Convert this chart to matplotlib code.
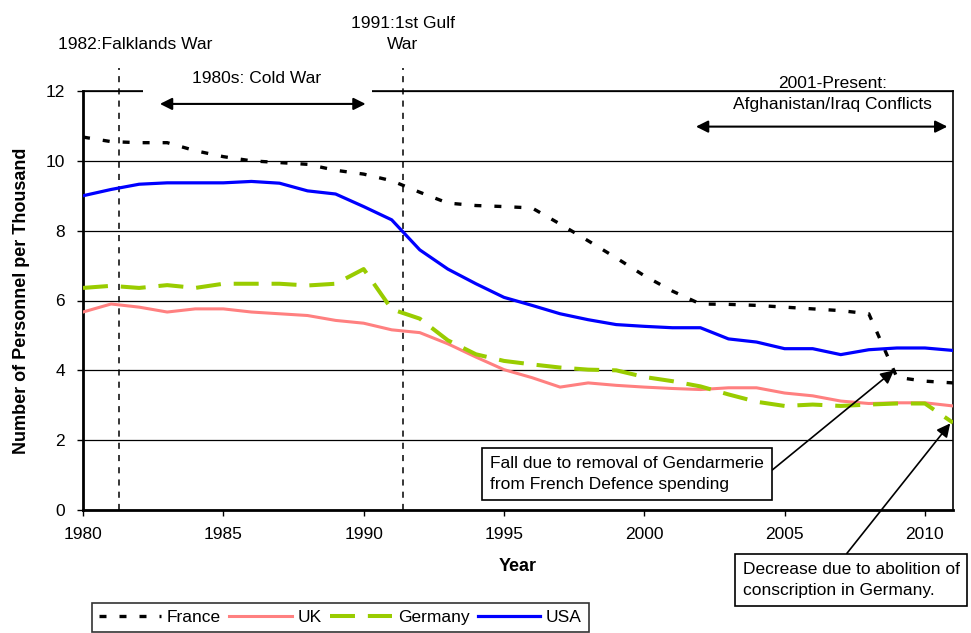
import numpy as np
import matplotlib.pyplot as plt
from matplotlib.patches import Rectangle

plt.rcParams['font.family'] = ['Liberation Sans', 'DejaVu Sans']

# Data (personnel per thousand population)
years = list(range(1980, 2012))
france = [10.68, 10.55, 10.52, 10.52, 10.29, 10.12, 10.0, 9.95, 9.9, 9.73, 9.62, 9.43,
          9.1, 8.79, 8.72, 8.69, 8.65, 8.19, 7.71, 7.22, 6.71, 6.27, 5.9, 5.89,
          5.86, 5.81, 5.76, 5.71, 5.62, 3.8, 3.69, 3.64]
uk = [5.67, 5.9, 5.81, 5.67, 5.76, 5.76, 5.67, 5.62, 5.57, 5.43, 5.35, 5.16,
      5.08, 4.76, 4.38, 4.02, 3.79, 3.52, 3.64, 3.57, 3.52, 3.48, 3.45, 3.5,
      3.5, 3.35, 3.27, 3.12, 3.05, 3.07, 3.07, 2.98]
germany = [6.36, 6.42, 6.36, 6.44, 6.36, 6.48, 6.48, 6.48, 6.43, 6.48, 6.9, 5.75,
           5.48, 4.86, 4.46, 4.27, 4.17, 4.08, 4.02, 4.0, 3.81, 3.69, 3.54, 3.31,
           3.1, 2.98, 3.02, 2.98, 3.02, 3.05, 3.05, 2.5]
usa = [9.0, 9.18, 9.33, 9.37, 9.37, 9.37, 9.41, 9.36, 9.14, 9.05, 8.69, 8.31,
       7.45, 6.9, 6.48, 6.09, 5.86, 5.62, 5.45, 5.31, 5.26, 5.22, 5.22, 4.9,
       4.81, 4.62, 4.62, 4.45, 4.59, 4.64, 4.64, 4.57]

event_years = [1981.3, 1991.4]
fs = 12.5
ls = 1.5

fig = plt.figure(figsize=(9.71, 6.33), dpi=100)
ax = fig.add_axes([83 / 971, 1 - 510 / 633, 870 / 971, 419 / 633])

l1, = ax.plot(years, france, color='black', lw=2.4, dashes=(2.1, 3.9), label='France', zorder=3)
l2, = ax.plot(years, uk, color='#FF8080', lw=2.2, label='UK', zorder=3)
l3, = ax.plot(years, germany, color='#99CC00', lw=2.9, dashes=(6.2, 3.2), label='Germany', zorder=3)
l4, = ax.plot(years, usa, color='#0000FF', lw=2.3, label='USA', zorder=3)

ax.set_xlim(1980, 2011)
ax.set_ylim(0, 12)
ax.set_yticks(np.arange(0, 13, 2))
ax.set_xticks(np.arange(1980, 2011, 5))
ax.yaxis.grid(True, color='black', lw=0.9)
ax.set_axisbelow(True)
ax.tick_params(labelsize=fs, length=4, width=1, direction='out')
ax.tick_params(axis='x', pad=8)
ax.tick_params(axis='y', pad=9)
for s in ['left', 'bottom']:
    ax.spines[s].set_linewidth(2)
for s in ['right', 'top']:
    ax.spines[s].set_linewidth(1.2)

ax.set_xlabel('Year', fontsize=fs + 0.5, fontweight='bold', labelpad=12)
ax.set_ylabel('Number of Personnel per Thousand', fontsize=fs + 0.5, fontweight='bold', labelpad=11)

# event lines
ax.vlines(event_years, 0, 12.67, colors='black', linestyles=(0, (4, 4)), lw=1.1, clip_on=False, zorder=2)
ax.text(1980.0 - 0.9, 13.33, '1982:Falklands War', fontsize=fs, ha='left', va='center')
ax.text(event_years[1], 13.64, '1991:1st Gulf\nWar', fontsize=fs, ha='center', va='center',
        linespacing=ls)

# cold war box covering the top line
ax.add_patch(Rectangle((1982.14, 11.93), 8.14, 0.8, facecolor='white', edgecolor='none',
                       clip_on=False, zorder=4))
ax.text(1986.2, 12.37, '1980s: Cold War', fontsize=fs, ha='center', va='center', zorder=5)
ax.annotate('', xy=(1982.74, 11.63), xytext=(1990.07, 11.63),
            arrowprops=dict(arrowstyle='<|-|>', color='black', lw=1.5, mutation_scale=18,
                            shrinkA=0, shrinkB=0), zorder=5)

# Afghanistan / Iraq
ax.text(2006.7, 11.91, '2001-Present:\nAfghanistan/Iraq Conflicts', fontsize=fs,
        ha='center', va='center', linespacing=ls)
ax.annotate('', xy=(2001.84, 10.98), xytext=(2010.8, 10.98),
            arrowprops=dict(arrowstyle='<|-|>', color='black', lw=1.5, mutation_scale=18,
                            shrinkA=0, shrinkB=0))

# callouts
box = dict(boxstyle='square,pad=0.45', fc='white', ec='black', lw=1.2)
ax.annotate('Fall due to removal of Gendarmerie\nfrom French Defence spending',
            xy=(2008.9, 4.0), xytext=(1994.5, 1.03), fontsize=fs, ha='left', va='center',
            linespacing=ls, bbox=box,
            arrowprops=dict(arrowstyle='-|>', color='black', lw=1.2, mutation_scale=20,
                            relpos=(1.0, 0.42), shrinkA=0, shrinkB=0), zorder=6)
ax.annotate('Decrease due to abolition of\nconscription in Germany.',
            xy=(2010.9, 2.48), xytext=(2003.5, -2.0), fontsize=fs, ha='left', va='center',
            linespacing=ls, bbox=box,
            arrowprops=dict(arrowstyle='-|>', color='black', lw=1.2, mutation_scale=20,
                            relpos=(0.45, 1.0), shrinkA=0, shrinkB=0), zorder=6)

leg = fig.legend(handles=[l1, l2, l3, l4], loc='upper left', bbox_to_anchor=(92 / 971, 1 - 603 / 633),
                 ncol=4, fontsize=fs, frameon=True, fancybox=False, edgecolor='black',
                 handlelength=3.6, handletextpad=0.3, columnspacing=0.5, borderpad=0.4,
                 borderaxespad=0)
leg.get_frame().set_linewidth(1.2)

fig.savefig('out.png', dpi=100)
